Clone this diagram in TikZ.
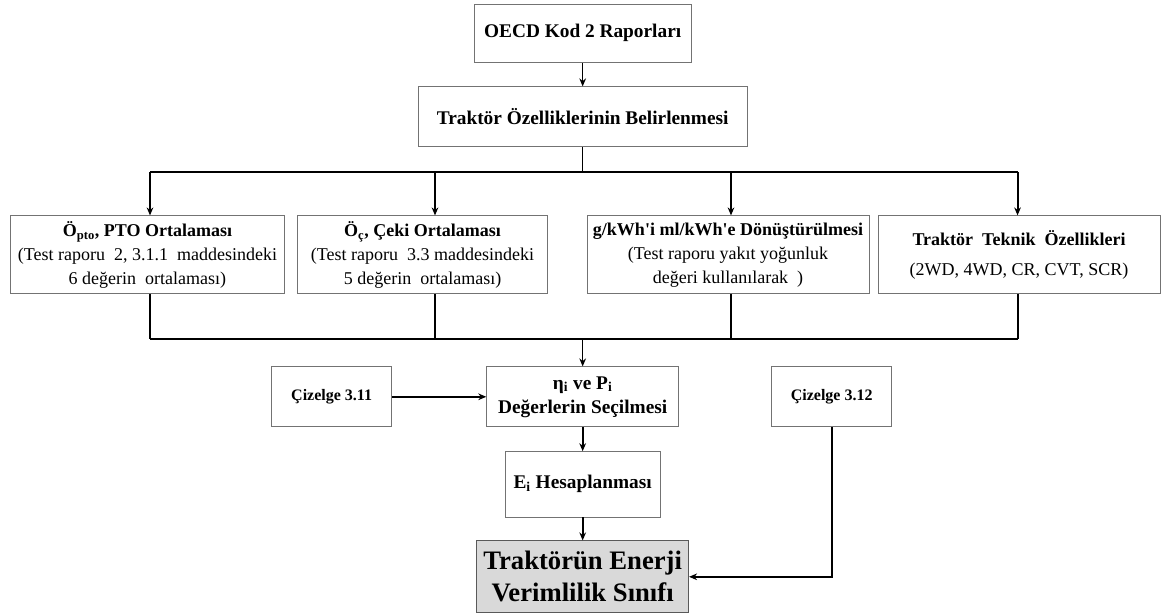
\documentclass[tikz,border=0pt]{standalone}
\usepackage{fontspec}
\setmainfont{Liberation Serif}
\usetikzlibrary{positioning}
\usetikzlibrary{arrows.meta}

\tikzset{
  box/.style={draw=black!55, line width=0.6pt, align=center, inner sep=2pt},
  headbox/.style={box, font=\bfseries\fontsize{14.5}{17}\selectfont},
  rowbox/.style={box, minimum height=58.5pt, font=\fontsize{13.5}{18}\selectfont},
  tablebox/.style={box, minimum width=90pt, minimum height=45pt, font=\bfseries\fontsize{12}{14}\selectfont},
  midbox/.style={box, font=\bfseries\fontsize{14.5}{18}\selectfont},
  endbox/.style={box, draw=black!65, fill=black!15, font=\bfseries\fontsize{20}{24}\selectfont},
  conn/.style={line width=1pt},
  bus/.style={line width=1.5pt}
}

\begin{document}
\begin{tikzpicture}[node distance=2cm,on grid,>={Stealth[length=6pt,width=5pt]}]
   \useasboundingbox (0,0) rectangle (871.5pt,-460.5pt);
   \node[headbox,minimum width=163pt,minimum height=44pt] (oecd) at (437pt,-25pt) {OECD Kod 2 Raporları};
   \node[headbox,minimum width=247pt,minimum height=45pt] (ozel) [below=62.6pt of oecd] {Traktör Özelliklerinin Belirlenmesi};
   \node[rowbox,minimum width=206pt] (opto) [below left=103.5pt and 326.4pt of ozel]
     {\textbf{Ö\textsubscript{pto}, PTO Ortalaması}\\(Test raporu\ \ 2, 3.1.1\ \ maddesindeki\\6\ değerin\ \ ortalaması)};
   \node[rowbox,minimum width=187pt] (ceki) [right=206.3pt of opto]
     {\textbf{Ö\textsubscript{ç}, Çeki Ortalaması}\\(Test raporu\ \ 3.3 maddesindeki\\5\ değerin\ \ ortalaması)};
   \node[rowbox,minimum width=211.5pt] (yakit) [right=229.1pt of ceki]
     {\textbf{g/kWh\textquotesingle i ml/kWh\textquotesingle e\ Dönüştürülmesi}\\(Test raporu\ yakıt\ yoğunluk\\değeri\ kullanılarak\ \ )};
   \node[rowbox,minimum width=211.5pt] (teknik) [right=218.25pt of yakit]
     {\textbf{Traktör\ \ Teknik\ \ Özellikleri}\\[5pt](2WD, 4WD, CR, CVT, SCR)};
   \node[midbox,minimum width=144pt,minimum height=45pt] (secim) [below=210pt of ozel]
     {η\textsubscript{i} ve P\textsubscript{i}\\Değerlerin Seçilmesi};
   \node[tablebox] (ciz_a) [left=188.25pt of secim] {Çizelge 3.11};
   \node[tablebox] (ciz_b) [right=186.75pt of secim] {Çizelge 3.12};
   \node[midbox,minimum width=116pt,minimum height=49pt] (hesap) [below=65.6pt of secim]
     {E\textsubscript{i} Hesaplanması};
   \node[endbox,minimum width=159pt,minimum height=54pt] (sinif) [below=69.4pt of hesap]
     {Traktörün Enerji\\Verimlilik Sınıfı};

   % drop points of the two bus lines
   \coordinate (d_opto) at ([xshift=1.9pt]opto.north);
   \coordinate (d_ceki) at ([xshift=9.35pt]ceki.north);
   \coordinate (d_yakit) at ([xshift=2.25pt]yakit.north);
   \coordinate (d_teknik) at ([xshift=-1.1pt]teknik.north);
   \coordinate[below=18.75pt of ozel.south] (topbus);
   \coordinate[above=20.25pt of secim.north] (botbus);

   \draw[->,conn] (oecd) -- (ozel);
   \draw[conn] (ozel) -- (topbus);
   \draw[bus] (topbus -| d_opto) -- (topbus -| d_teknik);
   \draw[bus] (botbus -| d_opto) -- (botbus -| d_teknik);
   \foreach \n in {opto,ceki,yakit,teknik} {
     \draw[->,bus] (topbus -| d_\n) -- (d_\n);
     \draw[bus] (\n.south -| d_\n) -- (botbus -| d_\n);
   }
   \draw[->,conn] (botbus) -- (secim);
   \draw[->,bus] (ciz_a) -- (secim);
   \draw[->,bus] (secim) -- (hesap);
   \draw[->,bus] (hesap) -- (sinif);
   \draw[->,bus] (ciz_b) |- (sinif);
\end{tikzpicture}
\end{document}
